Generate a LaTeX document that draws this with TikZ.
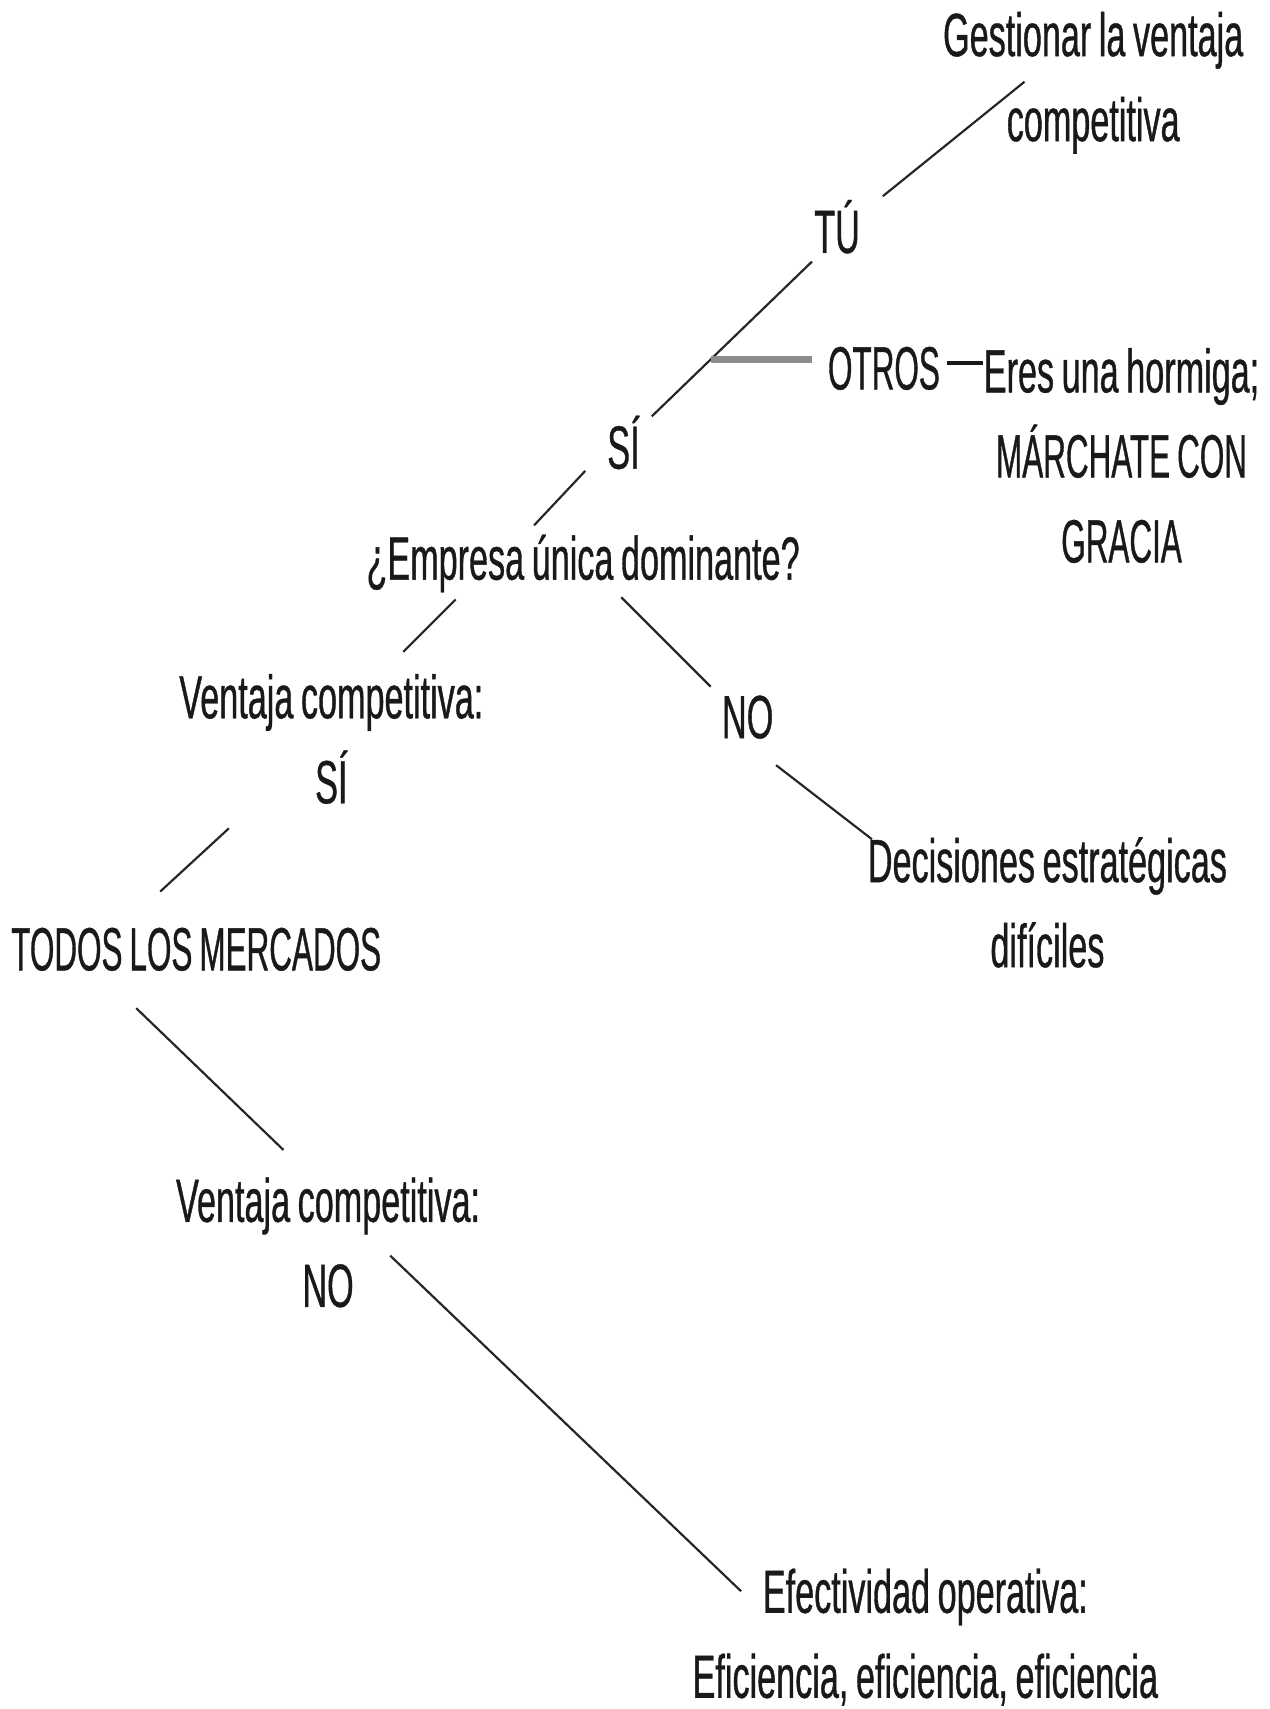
\documentclass[tikz,border=0pt]{standalone}
\usepackage{fontspec}
\setmainfont{Liberation Sans}[FakeStretch=0.56,FakeBold=0.6,WordSpace=0.8]
% capitals of this face run a little narrower than its lower case
\newcommand{\narrowcaps}[1]{\scalebox{0.92}[1]{#1}}
\begin{document}
\begin{tikzpicture}[x=0.5pt,y=-0.5pt,
  lbl/.style={inner sep=0pt, align=center, text=black!90,
    font=\fontsize{28}{39}\selectfont},
  link/.style={line width=1pt, black!85},
  greybar/.style={line width=3.5pt, black!45},
  dashbar/.style={line width=1.8pt, black!90}]
\useasboundingbox (0,0) rectangle (1165,1568);

% text of the decision tree
\node[lbl] (gest)    at (1003,76)  {Gestionar la ventaja\\competitiva};
\node[lbl] (tu)      at (768,208)  {TÚ};
\node[lbl] (si1)     at (572,406)  {SÍ};
\node[lbl] (otros)   at (811,338)  {\narrowcaps{OTROS}};
\node[lbl] (hormiga) at (1029,418) {Eres una hormiga;\\\narrowcaps{MÁRCHATE CON}\\\narrowcaps{GRACIA}};
\node[lbl] (empresa) at (535,517)  {¿Empresa única dominante?};
\node[lbl] (vcsi)    at (304,678)  {Ventaja competitiva:\\SÍ};
\node[lbl] (no1)     at (686,658)  {NO};
\node[lbl] (decis)   at (961,828)  {Decisiones estratégicas\\difíciles};
\node[lbl] (todos)   at (180,871)  {\narrowcaps{TODOS LOS MERCADOS}};
\node[lbl] (vcno)    at (301,1140) {Ventaja competitiva:\\NO};
\node[lbl] (efect)   at (849,1502) {Efectividad operativa:\\Eficiencia, eficiencia, eficiencia};

% end points of the short connecting strokes
\coordinate (l1a) at (810,180);  \coordinate (l1b) at (940,75);
\coordinate (l2a) at (598,382);  \coordinate (l2b) at (745,240);
\coordinate (gra) at (652,330);  \coordinate (grb) at (745,330);
\coordinate (dsa) at (869,333);  \coordinate (dsb) at (902,333);
\coordinate (l3a) at (490,482);  \coordinate (l3b) at (537,432);
\coordinate (l4a) at (418,550);  \coordinate (l4b) at (370,598);
\coordinate (l5a) at (570,548);  \coordinate (l5b) at (652,630);
\coordinate (l6a) at (712,702);  \coordinate (l6b) at (800,770);
\coordinate (l7a) at (210,760);  \coordinate (l7b) at (147,818);
\coordinate (l8a) at (125,925);  \coordinate (l8b) at (260,1055);
\coordinate (l9a) at (358,1152); \coordinate (l9b) at (680,1460);

\draw[link] (l1a) -- (l1b);
\draw[link] (l2a) -- (l2b);
\draw[greybar] (gra) -- (grb);
\draw[dashbar] (dsa) -- (dsb);
\draw[link] (l3a) -- (l3b);
\draw[link] (l4a) -- (l4b);
\draw[link] (l5a) -- (l5b);
\draw[link] (l6a) -- (l6b);
\draw[link] (l7a) -- (l7b);
\draw[link] (l8a) -- (l8b);
\draw[link] (l9a) -- (l9b);
\end{tikzpicture}
\end{document}
